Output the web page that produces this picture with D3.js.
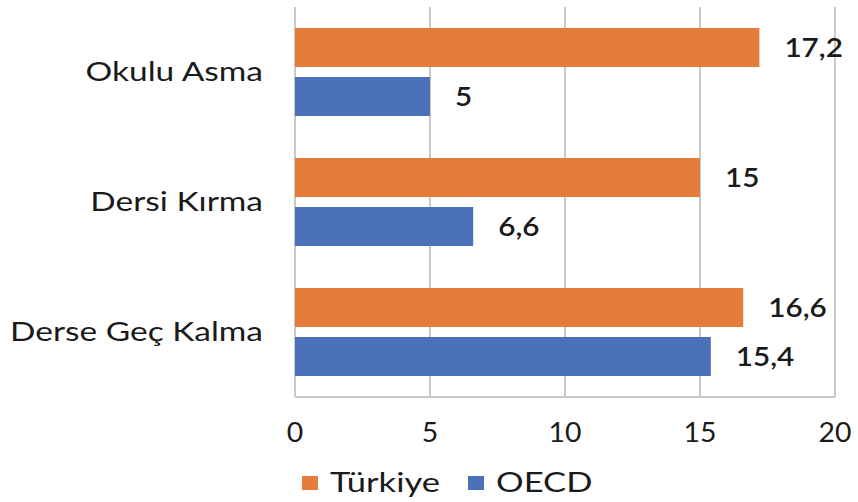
<!DOCTYPE html>
<html>
<head>
<meta charset="utf-8">
<script src="https://cdn.jsdelivr.net/npm/d3@7"></script>
<style>
  body { margin: 0; background: #fff; }
  text { font-family: Lato, "Open Sans", sans-serif; fill: #1a1a1a; }
</style>
</head>
<body>
<div id="chart"></div>
<script>
const categories = ["Okulu Asma", "Dersi Kırma", "Derse Geç Kalma"];
const seriesNames = ["Türkiye", "OECD"];
const turkiye = [17.2, 15, 16.6];
const oecd = [5, 6.6, 15.4];
const xTicks = [0, 5, 10, 15, 20];

const colors = { "Türkiye": "#E47C3C", "OECD": "#4A71BA" };
const W = 858, H = 502;
const margin = { top: 7, right: 23, bottom: 105, left: 295 };
const width = W - margin.left - margin.right;
const height = H - margin.top - margin.bottom;

const svg = d3.select("#chart").append("svg")
  .attr("width", W).attr("height", H);
const g = svg.append("g").attr("transform", `translate(${margin.left},${margin.top})`);

const x = d3.scaleLinear().domain([0, 20]).range([0, width]);
const y0 = d3.scaleBand().domain(categories).range([0, height]).padding(0);
const y1 = d3.scaleBand().domain(seriesNames)
  .range([21, y0.bandwidth() - 21]).paddingInner(0.204);

// the source font is wide, so text gets stretched a bit horizontally
function place(sel, fx, fy, sx) {
  return sel.attr("transform", d => `translate(${fx(d)},${fy(d)}) scale(${sx},1)`);
}

// gridlines
g.selectAll(".grid").data(xTicks).enter().append("line")
  .attr("x1", d => x(d)).attr("x2", d => x(d))
  .attr("y1", 0).attr("y2", height)
  .attr("stroke", "#c9c9c9").attr("stroke-width", 2);
g.append("line")
  .attr("x1", 0).attr("x2", width)
  .attr("y1", height).attr("y2", height)
  .attr("stroke", "#c9c9c9").attr("stroke-width", 2);

const rows = categories.map((c, i) => ({
  cat: c,
  vals: [{ s: "Türkiye", v: turkiye[i] }, { s: "OECD", v: oecd[i] }]
}));

const grp = g.selectAll(".cat").data(rows).enter().append("g")
  .attr("transform", d => `translate(0,${y0(d.cat)})`);

grp.selectAll("rect").data(d => d.vals).enter().append("rect")
  .attr("x", 0).attr("y", d => y1(d.s))
  .attr("width", d => x(d.v)).attr("height", y1.bandwidth())
  .attr("fill", d => colors[d.s]);

place(grp.selectAll(".val").data(d => d.vals).enter().append("text"),
      d => x(d.v) + 25, d => y1(d.s) + y1.bandwidth() / 2, 1.1)
  .attr("dy", "0.35em")
  .attr("font-size", "27px").attr("font-weight", 600)
  .text(d => String(d.v).replace(".", ","));

// category labels
place(g.selectAll(".cl").data(categories).enter().append("text"),
      d => -32, d => y0(d) + y0.bandwidth() / 2, 1.24)
  .attr("dy", "0.35em").attr("text-anchor", "end")
  .attr("font-size", "27px")
  .text(d => d);

// x tick labels
place(g.selectAll(".xt").data(xTicks).enter().append("text"),
      d => x(d), d => height + 36, 1.05)
  .attr("dy", "0.35em").attr("text-anchor", "middle")
  .attr("font-size", "27px")
  .text(d => d);

// legend
const legendX = [302, 468];
const lg = svg.selectAll(".lg").data(seriesNames).enter().append("g")
  .attr("transform", (d, i) => `translate(${legendX[i]},483)`);
lg.append("rect").attr("x", 0).attr("y", -7).attr("width", 16).attr("height", 14)
  .attr("fill", d => colors[d]);
place(lg.append("text"), d => 28, d => 0, 1.28)
  .attr("dy", "0.35em")
  .attr("font-size", "27px").text(d => d);
</script>
</body>
</html>
